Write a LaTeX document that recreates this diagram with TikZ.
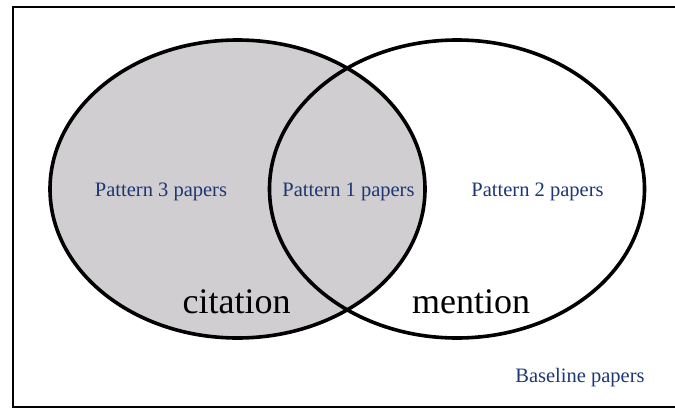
\documentclass[tikz,border=0pt]{standalone}
\usepackage{fontspec}
\setmainfont{Liberation Serif}
\usetikzlibrary{shapes.geometric,positioning}
\definecolor{setgray}{RGB}{208,206,208}
\definecolor{labelblue}{RGB}{30,55,115}

\begin{document}
\begin{tikzpicture}[
        x=1pt, y=-1pt,
        venn/.style={draw, ellipse, line width=3.6pt, minimum width=375pt, minimum height=298pt, inner sep=0pt},
        part/.style={text=labelblue, font=\fontsize{20.5}{24}\selectfont, anchor=base, inner sep=0pt},
        setname/.style={font=\fontsize{36}{40}\selectfont, anchor=base, inner sep=0pt}
    ]
    \useasboundingbox (0,0) rectangle (675,408);
    \draw[line width=2pt] (13,6.5) rectangle (690,406.5);

    \node (cit) [venn, fill=setgray] at (237.5,189) {};
    \node (men) [venn] at (457,189) {};

    \node (p3) [part] at (161,196) {Pattern 3 papers};
    \node (p1) [part] at (348.5,196) {Pattern 1 papers};
    \node (p2) [part] at (537.5,196) {Pattern 2 papers};

    \node (citlbl) [setname] at (236.5,313) {citation};
    \node (menlbl) [setname] at (471,313) {mention};

    \node (base) [part] at (580,382) {Baseline papers};
    \end{tikzpicture}
\end{document}
